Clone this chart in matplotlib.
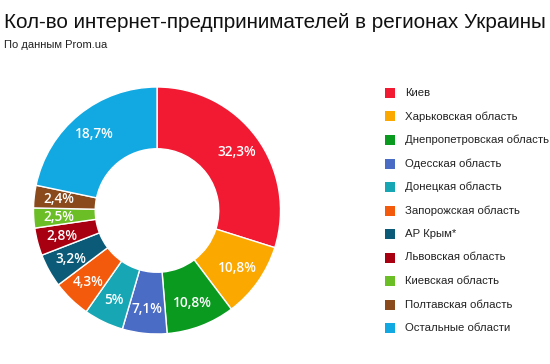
import matplotlib
matplotlib.use("Agg")
import matplotlib.pyplot as plt
from matplotlib.patches import Rectangle
import numpy as np

title = "Кол-во интернет-предпринимателей в регионах Украины"
subtitle = "По данным Prom.ua"
regions = ["Киев", "Харьковская область", "Днепропетровская область",
           "Одесская область", "Донецкая область", "Запорожская область",
           "АР Крым*", "Львовская область", "Киевская область",
           "Полтавская область", "Остальные области"]
# percentages printed on the chart
shares = [32.3, 10.8, 10.8, 7.1, 5.0, 4.3, 3.2, 2.8, 2.5, 2.4, 18.7]
share_labels = ["32,3%", "10,8%", "10,8%", "7,1%", "5%", "4,3%", "3,2%",
                "2,8%", "2,5%", "2,4%", "18,7%"]
# arc of each wedge as actually drawn in the picture (degrees)
arc_degrees = [107.5, 35.5, 32.3, 21.0, 18.7, 18.0, 15.8, 13.0, 9.4, 10.6, 78.2]
colors = ["#F21A32", "#FBA800", "#0A9A20", "#4A6CC4", "#17A6B4", "#F45A0C",
          "#0B5B78", "#A80010", "#6CBE26", "#8A4A1C", "#12A8E2"]

W, H = 550, 364
fig = plt.figure(figsize=(W / 100, H / 100), dpi=100)
fig.patch.set_facecolor("white")

fig.text(4 / W, 1 - 22 / H, title, fontsize=14.9, family="Liberation Sans",
         color="#111111", va="center", ha="left")
fig.text(4 / W, 1 - 45 / H, subtitle, fontsize=8, family="Liberation Sans",
         color="#222222", va="center", ha="left")

cx, cy, r = 157, 210.5, 123.5
ax = fig.add_axes([(cx - r) / W, (H - cy - r) / H, 2 * r / W, 2 * r / H])
wedges, _ = ax.pie(arc_degrees, colors=colors, startangle=90, counterclock=False,
                   radius=1.0,
                   wedgeprops=dict(width=0.5, edgecolor="white", linewidth=1.0))
total = sum(arc_degrees)
angle = 90.0
for lab, s in zip(share_labels, arc_degrees):
    sweep = s / total * 360
    mid = np.deg2rad(angle - sweep / 2)
    angle -= sweep
    rr = 0.80
    ax.text(rr * np.cos(mid), rr * np.sin(mid), lab, color="white",
            fontsize=9.8, family="Open Sans", fontweight="semibold",
            ha="center", va="center")
ax.set_xlim(-1, 1)
ax.set_ylim(-1, 1)
ax.set_aspect("equal")
ax.axis("off")

y0, dy = 93, 23.5
for i, (name, c) in enumerate(zip(regions, colors)):
    y = y0 + i * dy
    fig.patches.append(Rectangle((385 / W, 1 - (y + 5) / H), 10 / W, 10 / H,
                                 transform=fig.transFigure, facecolor=c,
                                 edgecolor="none"))
    fig.text(405 / W, 1 - y / H, name, fontsize=8.2, family="Liberation Sans",
             color="#222222", va="center", ha="left")

fig.savefig("out.png", dpi=100)
